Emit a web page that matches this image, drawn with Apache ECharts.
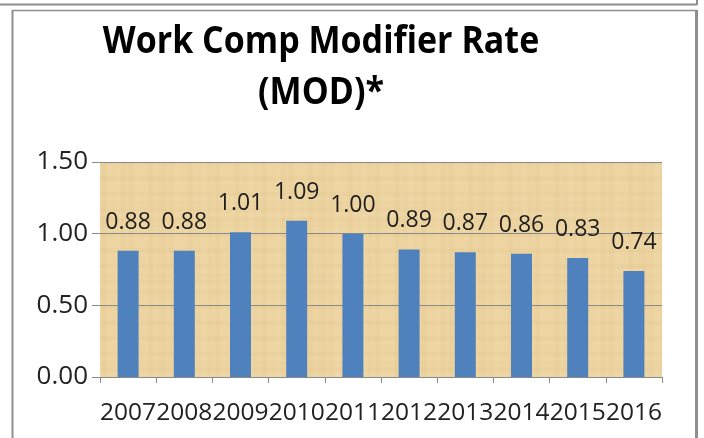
<!DOCTYPE html>
<html>
<head>
<meta charset="utf-8">
<script src="https://cdn.jsdelivr.net/npm/echarts@6/dist/echarts.min.js"></script>
<style>
  html, body { margin: 0; padding: 0; background: #ffffff; }
  #chart { width: 704px; height: 438px; }
</style>
</head>
<body>
<div id="chart"></div>
<script>
// Work comp experience modifier by year
const years = ['2007', '2008', '2009', '2010', '2011', '2012', '2013', '2014', '2015', '2016'];
const modRates = [0.88, 0.88, 1.01, 1.09, 1.00, 0.89, 0.87, 0.86, 0.83, 0.74];
const yAxisMin = 0;
const yAxisMax = 1.5;
const yAxisStep = 0.5;
const titleLines = ['Work Comp Modifier Rate', '(MOD)*'];

// Papyrus-like fill for the plot area: tan base with faint fibre streaks
function papyrusTexture() {
  const size = 160;
  const c = document.createElement('canvas');
  c.width = size; c.height = size;
  const g = c.getContext('2d');
  g.fillStyle = '#EDD4A1';
  g.fillRect(0, 0, size, size);
  for (let y = 0; y < size; y += 1) {
    const a = 0.07 * Math.sin(y * 0.61) * Math.cos(y * 0.173);
    g.fillStyle = a > 0 ? 'rgba(196,158,92,' + a.toFixed(3) + ')' : 'rgba(255,246,222,' + (-a).toFixed(3) + ')';
    g.fillRect(0, y, size, 1);
  }
  for (let x = 0; x < size; x += 1) {
    const a = 0.06 * Math.sin(x * 0.47) * Math.cos(x * 0.211);
    g.fillStyle = a > 0 ? 'rgba(190,150,86,' + a.toFixed(3) + ')' : 'rgba(255,246,222,' + (-a).toFixed(3) + ')';
    g.fillRect(x, 0, 1, size);
  }
  return c;
}

const chart = echarts.init(document.getElementById('chart'), null, { renderer: 'canvas' });
const frameColor = '#8E8E8E';
const textFont = '"Open Sans", "Noto Sans", sans-serif';

function titleLine(text, cy) {
  return {
    type: 'text', x: 321, y: cy, scaleY: 1.12, silent: true,
    style: {
      text: text, font: 'bold 34px ' + textFont, fill: '#000000',
      textAlign: 'center', textVerticalAlign: 'middle'
    }
  };
}

chart.setOption({
  backgroundColor: '#ffffff',
  animation: false,
  graphic: [
    // lower edge of the panel above
    { type: 'line', shape: { x1: 0, y1: 4.5, x2: 697, y2: 4.5 }, style: { stroke: frameColor, lineWidth: 2 }, silent: true },
    { type: 'line', shape: { x1: 697, y1: 0, x2: 697, y2: 5 }, style: { stroke: frameColor, lineWidth: 2 }, silent: true },
    // chart panel frame
    { type: 'line', shape: { x1: 12, y1: 10.5, x2: 697, y2: 10.5 }, style: { stroke: frameColor, lineWidth: 1.5 }, silent: true },
    { type: 'line', shape: { x1: 12.5, y1: 10, x2: 12.5, y2: 438 }, style: { stroke: frameColor, lineWidth: 2 }, silent: true },
    { type: 'line', shape: { x1: 696.5, y1: 10, x2: 696.5, y2: 438 }, style: { stroke: frameColor, lineWidth: 3 }, silent: true },
    // title
    titleLine(titleLines[0], 42),
    titleLine(titleLines[1], 93)
  ],
  grid: {
    left: 100, right: 42, top: 162, bottom: 61,
    show: true,
    borderWidth: 0,
    backgroundColor: { image: papyrusTexture(), repeat: 'repeat' }
  },
  xAxis: {
    type: 'category',
    data: years,
    axisLine: { show: true, lineStyle: { color: '#8A8A8A', width: 1 } },
    axisTick: { show: true, length: 6, lineStyle: { color: '#8A8A8A' } },
    axisLabel: { interval: 0, color: '#222222', fontFamily: textFont, fontSize: 24.5, margin: 24 }
  },
  yAxis: {
    type: 'value',
    min: yAxisMin, max: yAxisMax, interval: yAxisStep,
    axisLine: { show: false },
    axisTick: { show: true, length: 8, lineStyle: { color: '#8A8A8A' } },
    splitLine: { show: true, lineStyle: { color: '#8A8A8A', width: 1 } },
    axisLabel: {
      color: '#222222', fontFamily: textFont, fontSize: 26, margin: 12,
      formatter: v => v.toFixed(2)
    }
  },
  series: [{
    type: 'bar',
    data: modRates,
    barWidth: 21,
    itemStyle: { color: '#4F81BD' },
    label: {
      show: true, position: 'top', distance: 17,
      color: '#1E1E1E', fontFamily: textFont, fontSize: 23,
      formatter: p => p.value.toFixed(2)
    }
  }]
});
</script>
</body>
</html>
